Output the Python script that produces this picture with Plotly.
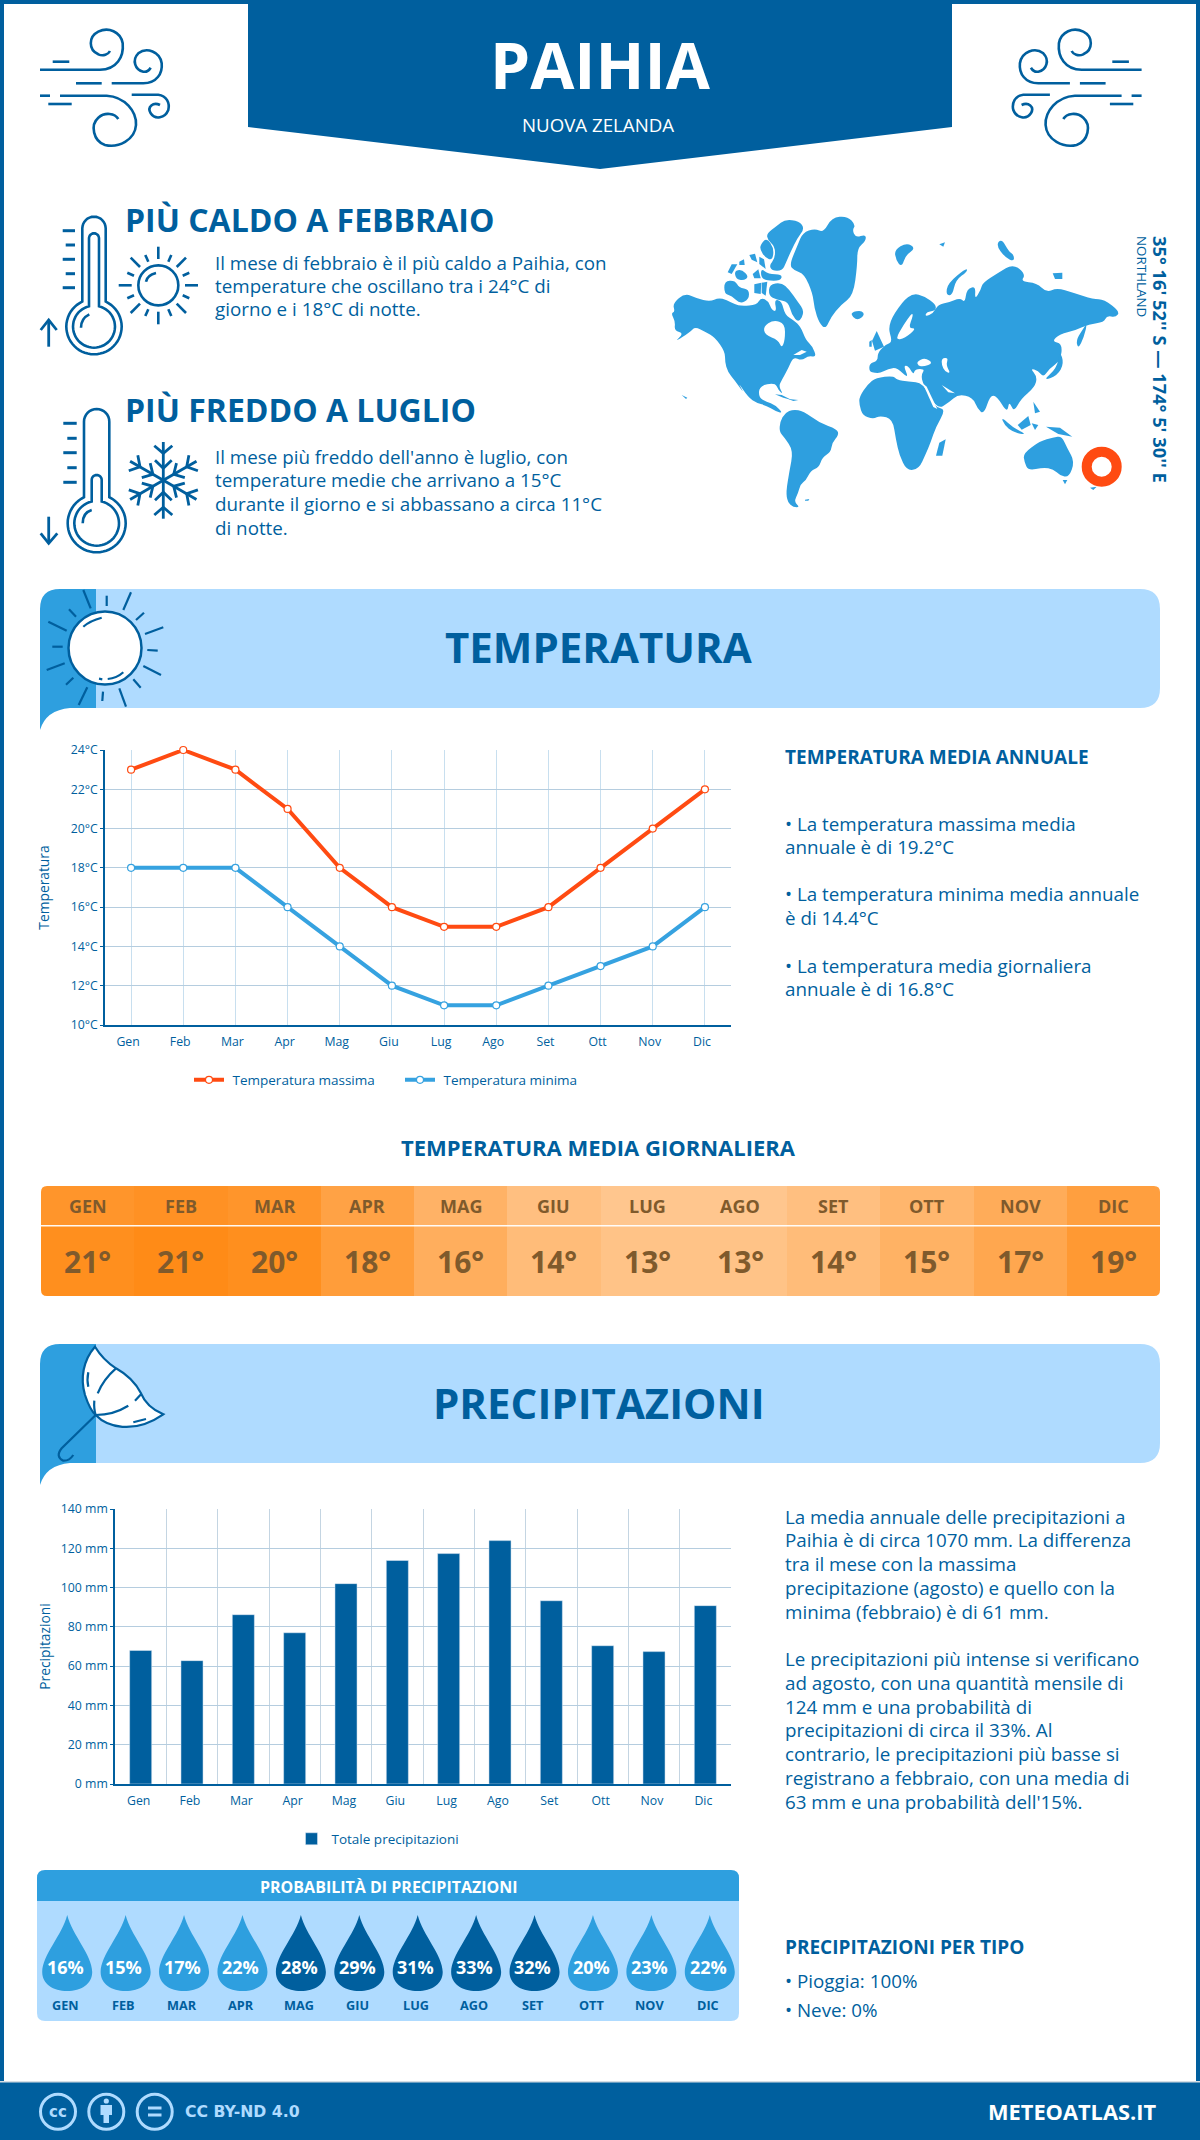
import math
import plotly.graph_objects as go

# chart data
months = ['Gen', 'Feb', 'Mar', 'Apr', 'Mag', 'Giu', 'Lug', 'Ago', 'Set', 'Ott', 'Nov', 'Dic']
months_upper = ['GEN', 'FEB', 'MAR', 'APR', 'MAG', 'GIU', 'LUG', 'AGO', 'SET', 'OTT', 'NOV', 'DIC']
temp_max = [23, 24, 23, 21, 18, 16, 15, 15, 16, 18, 20, 22]
temp_min = [18, 18, 18, 16, 14, 12, 11, 11, 12, 13, 14, 16]
temp_daily = [21, 21, 20, 18, 16, 14, 13, 13, 14, 15, 17, 19]
precip = [68, 62.8, 86.2, 77, 102, 113.8, 117.3, 123.9, 93.3, 70.4, 67.4, 90.8]
rain_prob = [16, 15, 17, 22, 28, 29, 31, 33, 32, 20, 23, 22]
temp_ticks = [10, 12, 14, 16, 18, 20, 22, 24]
precip_ticks = [0, 20, 40, 60, 80, 100, 120, 140]

BLUE = '#005F9E'
MID = '#2E9FDF'
LIGHT = '#AFDBFF'
ORANGE = '#FF4B12'
SKY = '#36A2E0'
BROWN = '#7F5A2C'
W, H = 1200, 2140

shapes = []
notes = []


def path(d, fill=None, line=None, width=2.5, **kw):
    s = dict(type='path', path=d, xref='x5', yref='y5', layer='above',
             line=dict(color=line or 'rgba(0,0,0,0)', width=width if line else 0))
    s['fillcolor'] = fill or 'rgba(0,0,0,0)'
    s.update(kw)
    shapes.append(s)


def rect(x0, y0, x1, y1, fill, opacity=1):
    shapes.append(dict(type='rect', x0=x0, y0=y0, x1=x1, y1=y1, xref='x5', yref='y5', layer='above',
                       fillcolor=fill, opacity=opacity, line=dict(width=0)))


def circle(cx, cy, r, fill=None, line=None, width=2.5):
    shapes.append(dict(type='circle', x0=cx - r, y0=cy - r, x1=cx + r, y1=cy + r, xref='x5', yref='y5',
                       layer='above', fillcolor=fill or 'rgba(0,0,0,0)',
                       line=dict(color=line or 'rgba(0,0,0,0)', width=width if line else 0)))


def label(x, y, text, size=18.8, color=BLUE, bold=False, anchor='left', angle=0, family='Open Sans', xref='x5'):
    notes.append(dict(x=x, y=y, xref=xref, yref='y5', text=text, showarrow=False, xanchor=anchor, yanchor='middle',
                      textangle=angle, font=dict(family=family, size=size, color=color, weight=700 if bold else 400)))


def poly(points, ox, oy, k=1 / 3.0, close=True):
    d = 'M' + ' L'.join(f'{ox + x * k:.1f},{oy + y * k:.1f}' for x, y in points)
    return d + (' Z' if close else '')


def blob(points, ox, oy, k=1 / 3.0):
    # rounded outline through the edge midpoints, for the traced coastlines
    if len(points) < 5:
        return poly(points, ox, oy, k)
    pts = [(ox + x * k, oy + y * k) for x, y in points]
    n = len(pts)
    mid = [((pts[i][0] + pts[(i + 1) % n][0]) / 2, (pts[i][1] + pts[(i + 1) % n][1]) / 2) for i in range(n)]
    d = f'M{mid[-1][0]:.1f},{mid[-1][1]:.1f}'
    for i in range(n):
        d += f' Q{pts[i][0]:.1f},{pts[i][1]:.1f} {mid[i][0]:.1f},{mid[i][1]:.1f}'
    return d + ' Z'


def curve(segs, ox, oy, k=1 / 3.0):
    # segs: svg-like string with absolute coords in zoom units
    out = []
    for tok in segs.split():
        if tok == 'Z':
            out.append(tok)
            continue
        head = ''
        if tok[0].isalpha():
            head, tok = tok[0], tok[1:]
        x, y = tok.split(',')
        out.append(f'{head}{ox + float(x) * k:.1f},{oy + float(y) * k:.1f}')
    return ' '.join(out)


def thermo_outline(cx, hw, top, by, r, ox, oy):
    k = 1 / 3.0
    pts = []
    for i in range(17):
        a = math.pi - math.pi * i / 16
        pts.append((cx + hw * math.cos(a), top - hw * math.sin(a)))
    start = math.asin(hw / r)
    n = 48
    for i in range(n + 1):
        a = start + (2 * math.pi - 2 * start) * i / n
        pts.append((cx + r * math.sin(a), by - r * math.cos(a)))
    return poly(pts, ox, oy, k)


def draw_wind(mirror=None):
    k = 1 / 3.0
    strokes = [
        'M30,164 L210,164 C260,164 282,125 278,85 C272,50 235,35 205,50 C175,65 175,105 205,118 C220,125 235,118 240,108',
        'M68,140 L118,140',
        'M138,205 L215,205',
        'M245,205 L340,205 C380,205 398,175 395,145 C390,110 350,95 325,115 C305,135 315,165 340,170 C350,172 358,165 362,158',
        'M30,242 L60,242',
        'M90,242 L230,242 C285,245 320,290 318,330 C315,375 265,400 225,390 C190,378 180,330 205,308 C225,290 255,295 265,312',
        'M55,267 L125,267',
        'M305,239 L385,239 C410,242 420,265 415,285 C405,310 375,315 362,295 C350,275 370,260 390,270',
    ]
    for s in strokes:
        out = []
        for tok in s.split():
            head = ''
            if tok[0].isalpha():
                head, tok = tok[0], tok[1:]
            x, y = tok.split(',')
            px = 30 + float(x) * k
            if mirror:
                px = mirror - px
            out.append(f'{head}{px:.1f},{15 + float(y) * k:.1f}')
        path(' '.join(out), line=BLUE, width=2.6)


def section_band(y0):
    y1 = y0 + 119
    path(f'M96,{y0} L1140,{y0} Q1160,{y0} 1160,{y0 + 20} L1160,{y1 - 20} Q1160,{y1} 1140,{y1} L96,{y1} Z', fill=LIGHT)
    path(f'M40,{y0 + 20} Q40,{y0} 60,{y0} L96,{y0} L96,{y1} L70,{y1} Q46,{y1 + 2} 40,{y1 + 22} Z', fill=MID)


# frame and header
rect(0, 0, W, 4, BLUE)
rect(0, 0, 4, H, BLUE)
rect(W - 4, 0, W, H, BLUE)
path('M248,0 L952,0 L952,127 L600,169 L248,127 Z', fill=BLUE)
draw_wind()
draw_wind(mirror=1181.6)
label(600, 64, 'PAIHIA', 64, 'white', True, 'center')
label(598, 124, 'NUOVA ZELANDA', 18.7, 'white', False, 'center')

# hot / cold blocks
label(123, 219, 'PIÙ CALDO A FEBBRAIO', 32, BLUE, True)
for y, t in zip([263, 286, 309], ['Il mese di febbraio è il più caldo a Paihia, con',
                                  'temperature che oscillano tra i 24°C di',
                                  'giorno e i 18°C di notte.']):
    label(213, y, t)
label(123, 409, 'PIÙ FREDDO A LUGLIO', 32, BLUE, True)
for y, t in zip([457, 480, 504, 528], ["Il mese più freddo dell'anno è luglio, con",
                                       'temperature medie che arrivano a 15°C',
                                       'durante il giorno e si abbassano a circa 11°C',
                                       'di notte.']):
    label(213, y, t)

ix, iy = 30, 205
path(thermo_outline(192, 35, 70, 365, 83, ix, iy), line=BLUE, width=2.6)
path(thermo_outline(192, 15, 100, 365, 63, ix, iy), line=BLUE, width=2.6)
path(curve('M153,368 C153,350 163,335 178,328', ix, iy), line=BLUE, width=2.6)
for a, b, y in [(98, 135, 77), (107, 135, 120), (98, 135, 163), (107, 135, 206), (98, 135, 248)]:
    path(poly([(a, y), (b, y)], ix, iy, close=False), line=BLUE, width=3)
path(poly([(56, 425), (56, 345)], ix, iy, close=False), line=BLUE, width=2.8)
path(poly([(32, 375), (56, 345), (80, 375)], ix, iy, close=False), line=BLUE, width=2.8)

circle(30 + 385 / 3, 205 + 241 / 3, 20, line=BLUE, width=2.6)
path(curve('M348,230 C350,218 362,208 378,204', ix, iy), line=BLUE, width=2.6)
for a, b, c, d in [(385, 125, 385, 162), (385, 320, 385, 358), (266, 241, 305, 241), (465, 241, 504, 241),
                   (302, 158, 330, 186), (468, 158, 440, 186), (302, 324, 330, 296), (468, 324, 440, 296),
                   (346, 150, 355, 170), (424, 150, 415, 170), (292, 203, 312, 212), (478, 203, 458, 212),
                   (292, 280, 312, 271), (478, 280, 458, 271), (346, 333, 355, 313), (424, 333, 415, 313)]:
    path(poly([(a, b), (c, d)], ix, iy, close=False), line=BLUE, width=2.6)

path(thermo_outline(200, 38, 650, 955, 87, ix, iy), line=BLUE, width=2.6)
path(thermo_outline(200, 15, 825, 955, 67, ix, iy), line=BLUE, width=2.6)
path(curve('M158,955 C158,935 168,920 185,915', ix, iy), line=BLUE, width=2.6)
for a, b, y in [(100, 140, 655), (112, 140, 700), (100, 140, 743), (112, 140, 788), (100, 140, 832)]:
    path(poly([(a, y), (b, y)], ix, iy, close=False), line=BLUE, width=3)
path(poly([(56, 935), (56, 1015)], ix, iy, close=False), line=BLUE, width=2.8)
path(poly([(32, 985), (56, 1015), (82, 985)], ix, iy, close=False), line=BLUE, width=2.8)

# snowflake
for ang in [90, 30, -30, -90, -150, 150]:
    a = math.radians(ang)
    ux, uy = math.cos(a), -math.sin(a)
    nx, ny = -uy, ux
    fx, fy = 400, 826
    path(poly([(fx, fy), (fx + 115 * ux, fy + 115 * uy)], ix, iy, close=False), line=BLUE, width=2.8)
    for rv, re_, lat in [(81, 104, 27), (36, 60, 25)]:
        path(poly([(fx + re_ * ux + lat * nx, fy + re_ * uy + lat * ny), (fx + rv * ux, fy + rv * uy),
                   (fx + re_ * ux - lat * nx, fy + re_ * uy - lat * ny)], ix, iy, close=False), line=BLUE, width=2.8)

# world map, traced outlines
W_X, W_Y = 660, 205
E_X, E_Y = 880, 205
west_land = [
    [(33, 325), (45, 320), (38, 295), (75, 264), (110, 280), (150, 290), (175, 278), (200, 285), (225, 298), (245, 303),
     (290, 300), (303, 278), (325, 288), (335, 315), (350, 320), (343, 283), (365, 288), (375, 330), (400, 345),
     (422, 365), (437, 405), (457, 423), (470, 457), (445, 452), (425, 467), (400, 455), (385, 490), (365, 525),
     (356, 545), (370, 568), (355, 555), (345, 533), (298, 543), (296, 578), (320, 590), (345, 600), (370, 625),
     (345, 618), (320, 602), (290, 594), (265, 577), (232, 528), (254, 568), (225, 527), (203, 500), (195, 470),
     (195, 440), (165, 397), (135, 380), (105, 365), (90, 382), (42, 412), (72, 385), (43, 377), (46, 350)],
    [(320, 85), (350, 63), (375, 43), (417, 48), (434, 70), (412, 100), (392, 140), (377, 175), (367, 197), (335, 197),
     (328, 180), (345, 160), (345, 125), (323, 105)],
    [(301, 120), (320, 98), (342, 130), (337, 167), (315, 157), (301, 135)],
    [(328, 238), (365, 233), (387, 253), (412, 288), (434, 320), (417, 354), (395, 330), (385, 290), (350, 285), (326, 272)],
    [(193, 228), (225, 226), (237, 248), (267, 253), (267, 282), (240, 297), (215, 272), (193, 267)],
    [(283, 238), (304, 233), (302, 267), (283, 264)],
    [(305, 233), (322, 230), (317, 272), (305, 264)],
    [(223, 198), (245, 193), (267, 215), (250, 227), (228, 222)],
    [(203, 202), (215, 178), (232, 178), (215, 207)],
    [(278, 207), (295, 193), (302, 220), (283, 220)],
    [(303, 190), (325, 208), (367, 208), (362, 227), (320, 227), (303, 217)],
    [(268, 150), (285, 146), (292, 172), (275, 164)],
    [(238, 170), (252, 163), (254, 180), (238, 180)],
    [(298, 155), (312, 163), (317, 192), (298, 177)],
    [(388, 180), (413, 120), (428, 83), (465, 70), (490, 83), (515, 38), (562, 33), (587, 60), (577, 75), (587, 98),
     (617, 88), (618, 107), (592, 130), (592, 180), (580, 272), (542, 300), (512, 337), (497, 372), (478, 355),
     (463, 310), (458, 265), (433, 207), (403, 197)],
    [(573, 322), (605, 316), (614, 330), (595, 345), (578, 337)],
    [(345, 568), (365, 570), (395, 585), (370, 578)],
    [(385, 582), (415, 585), (400, 588)],
    [(360, 650), (375, 623), (400, 613), (430, 618), (477, 653), (532, 673), (536, 690), (517, 712), (512, 742),
     (487, 757), (477, 787), (452, 797), (437, 827), (422, 837), (414, 865), (402, 890), (420, 907), (400, 907),
     (383, 892), (378, 860), (388, 800), (400, 737), (373, 697), (358, 680)],
    [(435, 884), (448, 882), (445, 887), (435, 887)],
    [(65, 570), (82, 578), (78, 582)],
]
west_water = [
    [(310, 365), (340, 345), (375, 355), (375, 405), (365, 430), (355, 405), (315, 390)],
    [(400, 450), (425, 435), (440, 440), (420, 450)],
]
east_land = [
    [(-62, 575), (-37, 538), (-12, 518), (40, 512), (50, 525), (85, 530), (130, 533), (165, 608), (198, 612),
     (167, 667), (152, 712), (137, 747), (117, 792), (80, 797), (58, 750), (48, 705), (38, 642), (0, 632), (-20, 642),
     (-52, 632), (-62, 600)],
    [(168, 752), (178, 713), (197, 703), (187, 752)],
    [(-32, 476), (-7, 468), (-7, 443), (18, 418), (38, 412), (22, 360), (68, 288), (100, 265), (132, 273), (168, 298),
     (167, 317), (140, 320), (135, 335), (160, 325), (175, 298), (205, 293), (240, 278), (255, 293), (260, 253),
     (287, 243), (284, 285), (303, 253), (308, 233), (355, 203), (400, 176), (437, 208), (422, 230), (470, 233),
     (500, 263), (530, 248), (580, 263), (640, 283), (672, 283), (720, 320), (707, 337), (680, 332), (672, 352),
     (627, 357), (585, 377), (540, 387), (515, 410), (547, 415), (542, 467), (507, 492), (490, 517), (475, 497),
     (450, 490), (472, 515), (464, 547), (422, 582), (402, 622), (387, 587), (382, 625), (350, 572), (330, 572),
     (312, 628), (293, 612), (278, 577), (235, 567), (207, 592), (172, 614), (130, 540), (123, 510), (135, 492),
     (105, 492), (100, 510), (85, 482), (70, 482), (87, 522), (50, 487), (25, 492), (0, 504), (-15, 504), (-32, 500)],
    [(-24, 408), (-10, 378), (12, 425), (-15, 437)],
    [(-32, 410), (-25, 405), (-25, 425), (-32, 425)],
    [(43, 135), (80, 113), (107, 130), (77, 150), (65, 187), (48, 165)],
    [(198, 270), (203, 235), (260, 188), (262, 200), (227, 225), (217, 272)],
    [(178, 118), (195, 112), (190, 125)],
    [(348, 120), (365, 101), (387, 140), (402, 150), (402, 170), (375, 157)],
    [(518, 205), (547, 203), (547, 222), (525, 222)],
    [(488, 527), (530, 490), (540, 438), (552, 475), (532, 512)],
    [(588, 407), (605, 378), (622, 353), (612, 395), (595, 432)],
    [(413, 660), (445, 633), (452, 660), (425, 674)],
    [(363, 635), (400, 668), (442, 690), (400, 682), (373, 660)],
    [(498, 665), (540, 668), (577, 695), (535, 687)],
    [(460, 590), (480, 620), (465, 625)],
    [(455, 655), (475, 660), (465, 675)],
    [(430, 745), (480, 708), (520, 698), (545, 693), (562, 730), (584, 770), (567, 817), (540, 812), (520, 792),
     (490, 787), (445, 797), (433, 770)],
    [(548, 825), (562, 825), (555, 838)],
    [(630, 848), (650, 845), (640, 855)],
]
east_water = [
    [(95, 325), (70, 360), (45, 405), (75, 400), (110, 370), (85, 370), (100, 330)],
    [(110, 470), (135, 458), (160, 475), (130, 485), (115, 482)],
    [(185, 460), (205, 458), (198, 480), (212, 505), (195, 500), (185, 480)],
    [(185, 540), (225, 565), (205, 562)],
    [(128, 535), (140, 545), (172, 612), (160, 606)],
]
for p in west_land:
    path(blob(p, W_X, W_Y), fill=MID)
for p in east_land:
    path(blob(p, E_X, E_Y), fill=MID)
for p in west_water:
    path(blob(p, W_X, W_Y), fill='white')
for p in east_water:
    path(blob(p, E_X, E_Y), fill='white')
circle(1101.7, 466.7, 15, fill='white', line=ORANGE, width=10)
label(1161, 359, "35° 16' 52'' S — 174° 5' 30'' E", 18.3, BLUE, True, 'center', 90)
label(1142, 276, 'NORTHLAND', 13.4, BLUE, False, 'center', 90)

# temperature section
section_band(589)
circle(105, 648, 36.5, fill='white', line=BLUE, width=2.5)
sx, sy = 30, 580
for a, b, c, d in [(160, 30, 182, 85), (230, 47, 230, 78), (303, 37, 280, 90), (342, 98, 318, 120),
                   (400, 142, 345, 162), (383, 212, 352, 210), (393, 285, 340, 258), (332, 323, 310, 298),
                   (288, 380, 268, 325), (217, 363, 219, 335), (146, 375, 172, 322), (130, 293, 108, 314),
                   (104, 250, 50, 270), (98, 200, 67, 200), (110, 152, 55, 125), (138, 110, 117, 88)]:
    path(poly([(a, b), (c, d)], sx, sy, close=False), line=BLUE, width=2.2)
path(curve('M160,140 Q180,122 215,113', sx, sy), line=BLUE, width=2.2)
path(curve('M233,297 Q260,295 280,277', sx, sy), line=BLUE, width=2.2)
path(curve('M207,296 L217,298', sx, sy), line=BLUE, width=2.2)
label(598.5, 646, 'TEMPERATURA', 42, BLUE, True, 'center')

label(783, 757, 'TEMPERATURA MEDIA ANNUALE', 19, BLUE, True)
for y, t in zip([824, 847, 894, 918, 966, 989], ['• La temperatura massima media', 'annuale è di 19.2°C',
                                                 '• La temperatura minima media annuale', 'è di 14.4°C',
                                                 '• La temperatura media giornaliera', 'annuale è di 16.8°C']):
    label(783, y, t)

label(598.5, 1147, 'TEMPERATURA MEDIA GIORNALIERA', 22, BLUE, True, 'center')
rect(41, 1186, 1160, 1225, 'white', 0.06)
rect(41, 1225, 1160, 1226.5, 'white', 0.95)
for (cx, cy, dx, dy) in [(41, 1186, 1, 1), (1160, 1186, -1, 1), (41, 1296, 1, -1), (1160, 1296, -1, -1)]:
    path(f'M{cx},{cy} L{cx + 6 * dx},{cy} Q{cx},{cy} {cx},{cy + 6 * dy} Z', fill='white')
for i, m in enumerate(months_upper):
    label(i, 1206, m, 18, BROWN, True, 'center', xref='x3')
    label(i, 1261, f'{temp_daily[i]}°', 30, BROWN, True, 'center', xref='x3')

# precipitation section
section_band(1344)
ux_, uy_ = 30, 1335
path(curve('M195,35 C160,75 150,130 165,180 C175,210 185,230 197,240 C230,275 310,300 400,238 '
           'C370,225 345,205 333,175 C315,140 285,115 258,100 C235,85 210,60 195,35 Z', ux_, uy_),
     fill='white', line=BLUE, width=2.2)
for d in ['M258,100 C235,120 215,145 203,175', 'M197,240 C192,225 192,210 193,197', 'M197,240 Q250,240 295,212',
          'M315,197 L333,178', 'M310,262 L348,252', 'M175,112 Q170,135 175,155',
          'M197,240 L95,340 Q75,365 100,377 Q118,378 130,360']:
    path(curve(d, ux_, uy_), line=BLUE, width=2.2)
label(598.5, 1402, 'PRECIPITAZIONI', 42, BLUE, True, 'center')

for y, t in zip([1517, 1540, 1564, 1588, 1612, 1659, 1683, 1707, 1730, 1754, 1778, 1802],
                ['La media annuale delle precipitazioni a', 'Paihia è di circa 1070 mm. La differenza',
                 'tra il mese con la massima', 'precipitazione (agosto) e quello con la',
                 'minima (febbraio) è di 61 mm.',
                 'Le precipitazioni più intense si verificano', 'ad agosto, con una quantità mensile di',
                 '124 mm e una probabilità di', 'precipitazioni di circa il 33%. Al',
                 'contrario, le precipitazioni più basse si', 'registrano a febbraio, con una media di',
                 "63 mm e una probabilità dell'15%."]):
    label(783, y, t)

# rain probability panel
path('M37,1901 L37,1878 Q37,1870 45,1870 L731,1870 Q739,1870 739,1878 L739,1901 Z', fill=MID)
path('M37,1901 L739,1901 L739,2013 Q739,2021 731,2021 L45,2021 Q37,2021 37,2013 Z', fill=LIGHT)
label(389, 1887, 'PROBABILITÀ DI PRECIPITAZIONI', 16, 'white', True, 'center')
drop = ('M0,55 C-5,35 -25,15 -25,-2 C-25,-14 -14,-21 0,-21 C14,-21 25,-14 25,-2 C25,15 5,35 0,55 Z')
for i, v in enumerate(rain_prob):
    shapes.append(dict(type='path', path=drop, xref='x4', yref='y5', xsizemode='pixel', ysizemode='pixel',
                       xanchor=i, yanchor=1970, layer='above', line=dict(width=0),
                       fillcolor=BLUE if v >= 25 else MID))
    label(i - 0.03, 1967, f'{v}%', 18, 'white', True, 'center', xref='x4')
    label(i - 0.03, 2005, months_upper[i], 12.7, BLUE, True, 'center', xref='x4')

label(783, 1947, 'PRECIPITAZIONI PER TIPO', 19, BLUE, True)
label(783, 1981, '• Pioggia: 100%')
label(783, 2010, '• Neve: 0%')

# footer
rect(0, 2082, W, H, BLUE)
rect(0, 2081, W, 2082.5, '#D5DDE3')
for cx in (58, 106.3, 154.7):
    circle(cx, 2111.7, 17.5, line=LIGHT, width=3)
label(58, 2111.7, 'cc', 15, LIGHT, True, 'center', family='DejaVu Sans')
circle(106.3, 2101, 2.6, fill=LIGHT)
path('M100.5,2105 L112,2105 L112,2115 L109,2115 L109,2123 L103.5,2123 L103.5,2115 L100.5,2115 Z', fill=LIGHT)
rect(148, 2106.5, 161.5, 2109.5, LIGHT)
rect(148, 2113.5, 161.5, 2116.5, LIGHT)
label(183, 2111.7, 'CC BY-ND 4.0', 15.7, LIGHT, True, family='DejaVu Sans')
label(1158, 2111.7, 'METEOATLAS.IT', 21.8, 'white', True, 'right')

# traces
fig = go.Figure()
fig.add_trace(go.Scatter(x=[0, W], y=[0, H], mode='markers', marker=dict(opacity=0), xaxis='x5', yaxis='y5',
                         hoverinfo='skip', showlegend=False))
fig.add_trace(go.Scatter(x=months, y=temp_max, name='\u00a0Temperatura massima', mode='lines+markers', cliponaxis=False,
                         line=dict(color=ORANGE, width=4),
                         marker=dict(size=7, color='white', line=dict(color=ORANGE, width=1.2))))
fig.add_trace(go.Scatter(x=months, y=temp_min, name='\u00a0Temperatura minima', mode='lines+markers', cliponaxis=False,
                         line=dict(color=SKY, width=4),
                         marker=dict(size=7, color='white', line=dict(color=SKY, width=1.2))))
fig.add_trace(go.Bar(x=months, y=precip, name='Totale precipitazioni', marker_color=BLUE, xaxis='x2', yaxis='y2',
                     legend='legend2', width=0.43))
# cell colour follows the unrounded daily mean
daily_mean = [(a + b) / 2 for a, b in zip(temp_max, temp_min)]
fig.add_trace(go.Heatmap(x=months_upper, y=['t'], z=[daily_mean], zmin=13, zmax=21, showscale=False,
                         colorscale=[[0, '#FFC387'], [1, '#FF8B17']], xaxis='x3', yaxis='y3'))
fig.add_trace(go.Scatter(x=list(range(12)), y=rain_prob, mode='markers', marker=dict(opacity=0), xaxis='x4', yaxis='y4',
                         showlegend=False))

tick_font = dict(family='Open Sans', size=12.3, color=BLUE)
grid_y = '#B5CDDF'
grid_x = '#C8DFEF'


def chart_axes(left, right, top, bottom):
    return [left / W, right / W], [1 - bottom / H, 1 - top / H]


dx1, dy1 = chart_axes(105, 731, 750, 1025)
dx2, dy2 = chart_axes(115, 731, 1509, 1784)
dx3, dy3 = chart_axes(41, 1160, 1186, 1296)
dx4, dy4 = chart_axes(38, 739, 1901, 2021)

fig.update_layout(
    width=W, height=H, autosize=False,
    margin=dict(l=0, r=0, t=0, b=0, pad=0, autoexpand=False),
    paper_bgcolor='white', plot_bgcolor='rgba(0,0,0,0)',
    shapes=shapes, annotations=notes,
    font=dict(family='Open Sans', color=BLUE),
    showlegend=True,
    legend=dict(orientation='h', x=189 / W, xanchor='left', y=1 - 1080 / H, yanchor='middle', entrywidth=166,
                font=dict(family='Open Sans', size=13.5, color=BLUE), bgcolor='rgba(0,0,0,0)'),
    legend2=dict(orientation='h', x=378 / W, xanchor='center', y=1 - 1839 / H, yanchor='middle',
                 font=dict(family='Open Sans', size=13.5, color=BLUE), bgcolor='rgba(0,0,0,0)'),
    xaxis=dict(domain=dx1, type='category', categoryorder='array', categoryarray=months, range=[-0.5, 11.5],
               showgrid=True, gridcolor=grid_x, gridwidth=1, showline=True, linecolor=BLUE, linewidth=2,
               ticks='', tickfont=tick_font, ticklabelstandoff=4, ticklabelshift=-3, anchor='y'),
    yaxis=dict(domain=dy1, range=[10, 24], tickvals=temp_ticks, ticktext=[f'{v}°C' for v in temp_ticks], showgrid=True,
               gridcolor=grid_y, gridwidth=1.2, zeroline=False, showline=True, linecolor=BLUE, linewidth=1.5,
               ticks='outside', ticklen=3, tickcolor=BLUE, tickfont=tick_font, anchor='x',
               title=dict(text='Temperatura', font=dict(family='Open Sans', size=13.8, color=BLUE), standoff=18)),
    xaxis2=dict(domain=dx2, type='category', categoryorder='array', categoryarray=months, range=[-0.5, 11.5],
                tickson='boundaries', showgrid=True, gridcolor='#C4D5E2', gridwidth=1, showline=True, linecolor=BLUE,
                linewidth=2, ticks='', tickfont=tick_font, ticklabelstandoff=4, ticklabelshift=-2, anchor='y2'),
    yaxis2=dict(domain=dy2, range=[0, 140], tickvals=precip_ticks, ticktext=[f'{v} mm' for v in precip_ticks],
                showgrid=True, gridcolor=grid_y, gridwidth=1.2, zeroline=False, showline=True, linecolor=BLUE,
                linewidth=1.5, ticks='outside', ticklen=3, tickcolor=BLUE, tickfont=tick_font, anchor='x2',
                title=dict(text='Precipitazioni', font=dict(family='Open Sans', size=13.8, color=BLUE), standoff=7)),
    xaxis3=dict(domain=dx3, type='category', visible=False, anchor='y3', fixedrange=True),
    yaxis3=dict(domain=dy3, type='category', visible=False, anchor='x3', fixedrange=True),
    xaxis4=dict(domain=dx4, range=[-0.5, 11.5], visible=False, anchor='y4', fixedrange=True),
    yaxis4=dict(domain=dy4, range=[0, 100], visible=False, anchor='x4', fixedrange=True),
    xaxis5=dict(domain=[0, 1], range=[0, W], visible=False, anchor='y5', fixedrange=True),
    yaxis5=dict(domain=[0, 1], range=[H, 0], visible=False, anchor='x5', fixedrange=True),
)

fig.write_html("out.html", config={'displayModeBar': False},
               post_script="document.body.style.margin='0';document.body.style.overflow='hidden';")
